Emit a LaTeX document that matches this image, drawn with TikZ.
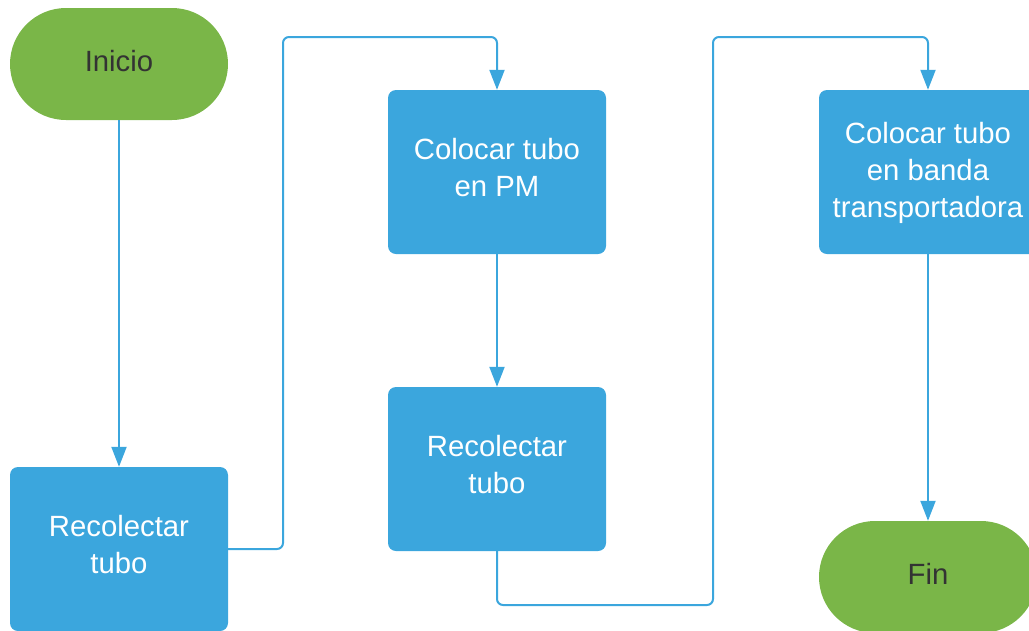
\documentclass[tikz,border=0pt]{standalone}
\usepackage{fontspec}
\setmainfont{Liberation Sans}
\usetikzlibrary{arrows.meta}
\definecolor{lblue}{HTML}{3BA6DD}
\definecolor{lgreen}{HTML}{7AB648}
\definecolor{dtext}{HTML}{333333}
\newcommand\nodetxt[2][3.8pt]{\raisebox{0pt}[\height][\dimexpr\depth+#1\relax]{\begin{tabular}{@{}c@{}}#2\end{tabular}}}
\begin{document}
\begin{tikzpicture}[x=1pt,y={(0pt,-1pt)},
  proc/.style={draw=none, fill=lblue, rounded corners=8pt, minimum width=218pt, minimum height=164pt, inner sep=0pt, text=white, font=\fontsize{29.3}{37}\selectfont},
  term/.style={draw=none, fill=lgreen, rounded corners=56pt, minimum width=218pt, minimum height=112pt, inner sep=0pt, text=dtext, font=\fontsize{29.3}{37}\selectfont},
  conn/.style={draw=lblue, line width=2pt, rounded corners=6pt, -{Triangle[width=15pt,length=20pt]}}]
\useasboundingbox (0,0) rectangle (1029,630);
\clip (0,0) rectangle (1029,630);
\node[term] (inicio) at (119,64) {\nodetxt[0pt]{Inicio}};
\node[proc] (rec1) at (119,549) {\nodetxt{Recolectar\\tubo}};
\node[proc] (colpm) at (497,172) {\nodetxt{Colocar tubo\\en PM}};
\node[proc] (rec2) at (497,469) {\nodetxt{Recolectar\\tubo}};
\node[proc] (banda) at (928,172) {\nodetxt[-1.2pt]{Colocar tubo\\en banda\\transportadora}};
\node[term] (fin) at (928,577) {\nodetxt[0pt]{Fin}};
\draw[conn] (inicio.south) -- (rec1.north);
\draw[conn] (rec1.east) -| (283,37) -| (colpm.north);
\draw[conn] (colpm.south) -- (rec2.north);
\draw[conn] (rec2.south) |- (713,605) -- (713,37) -| (banda.north);
\draw[conn] (banda.south) -- (fin.north);
\end{tikzpicture}
\end{document}
